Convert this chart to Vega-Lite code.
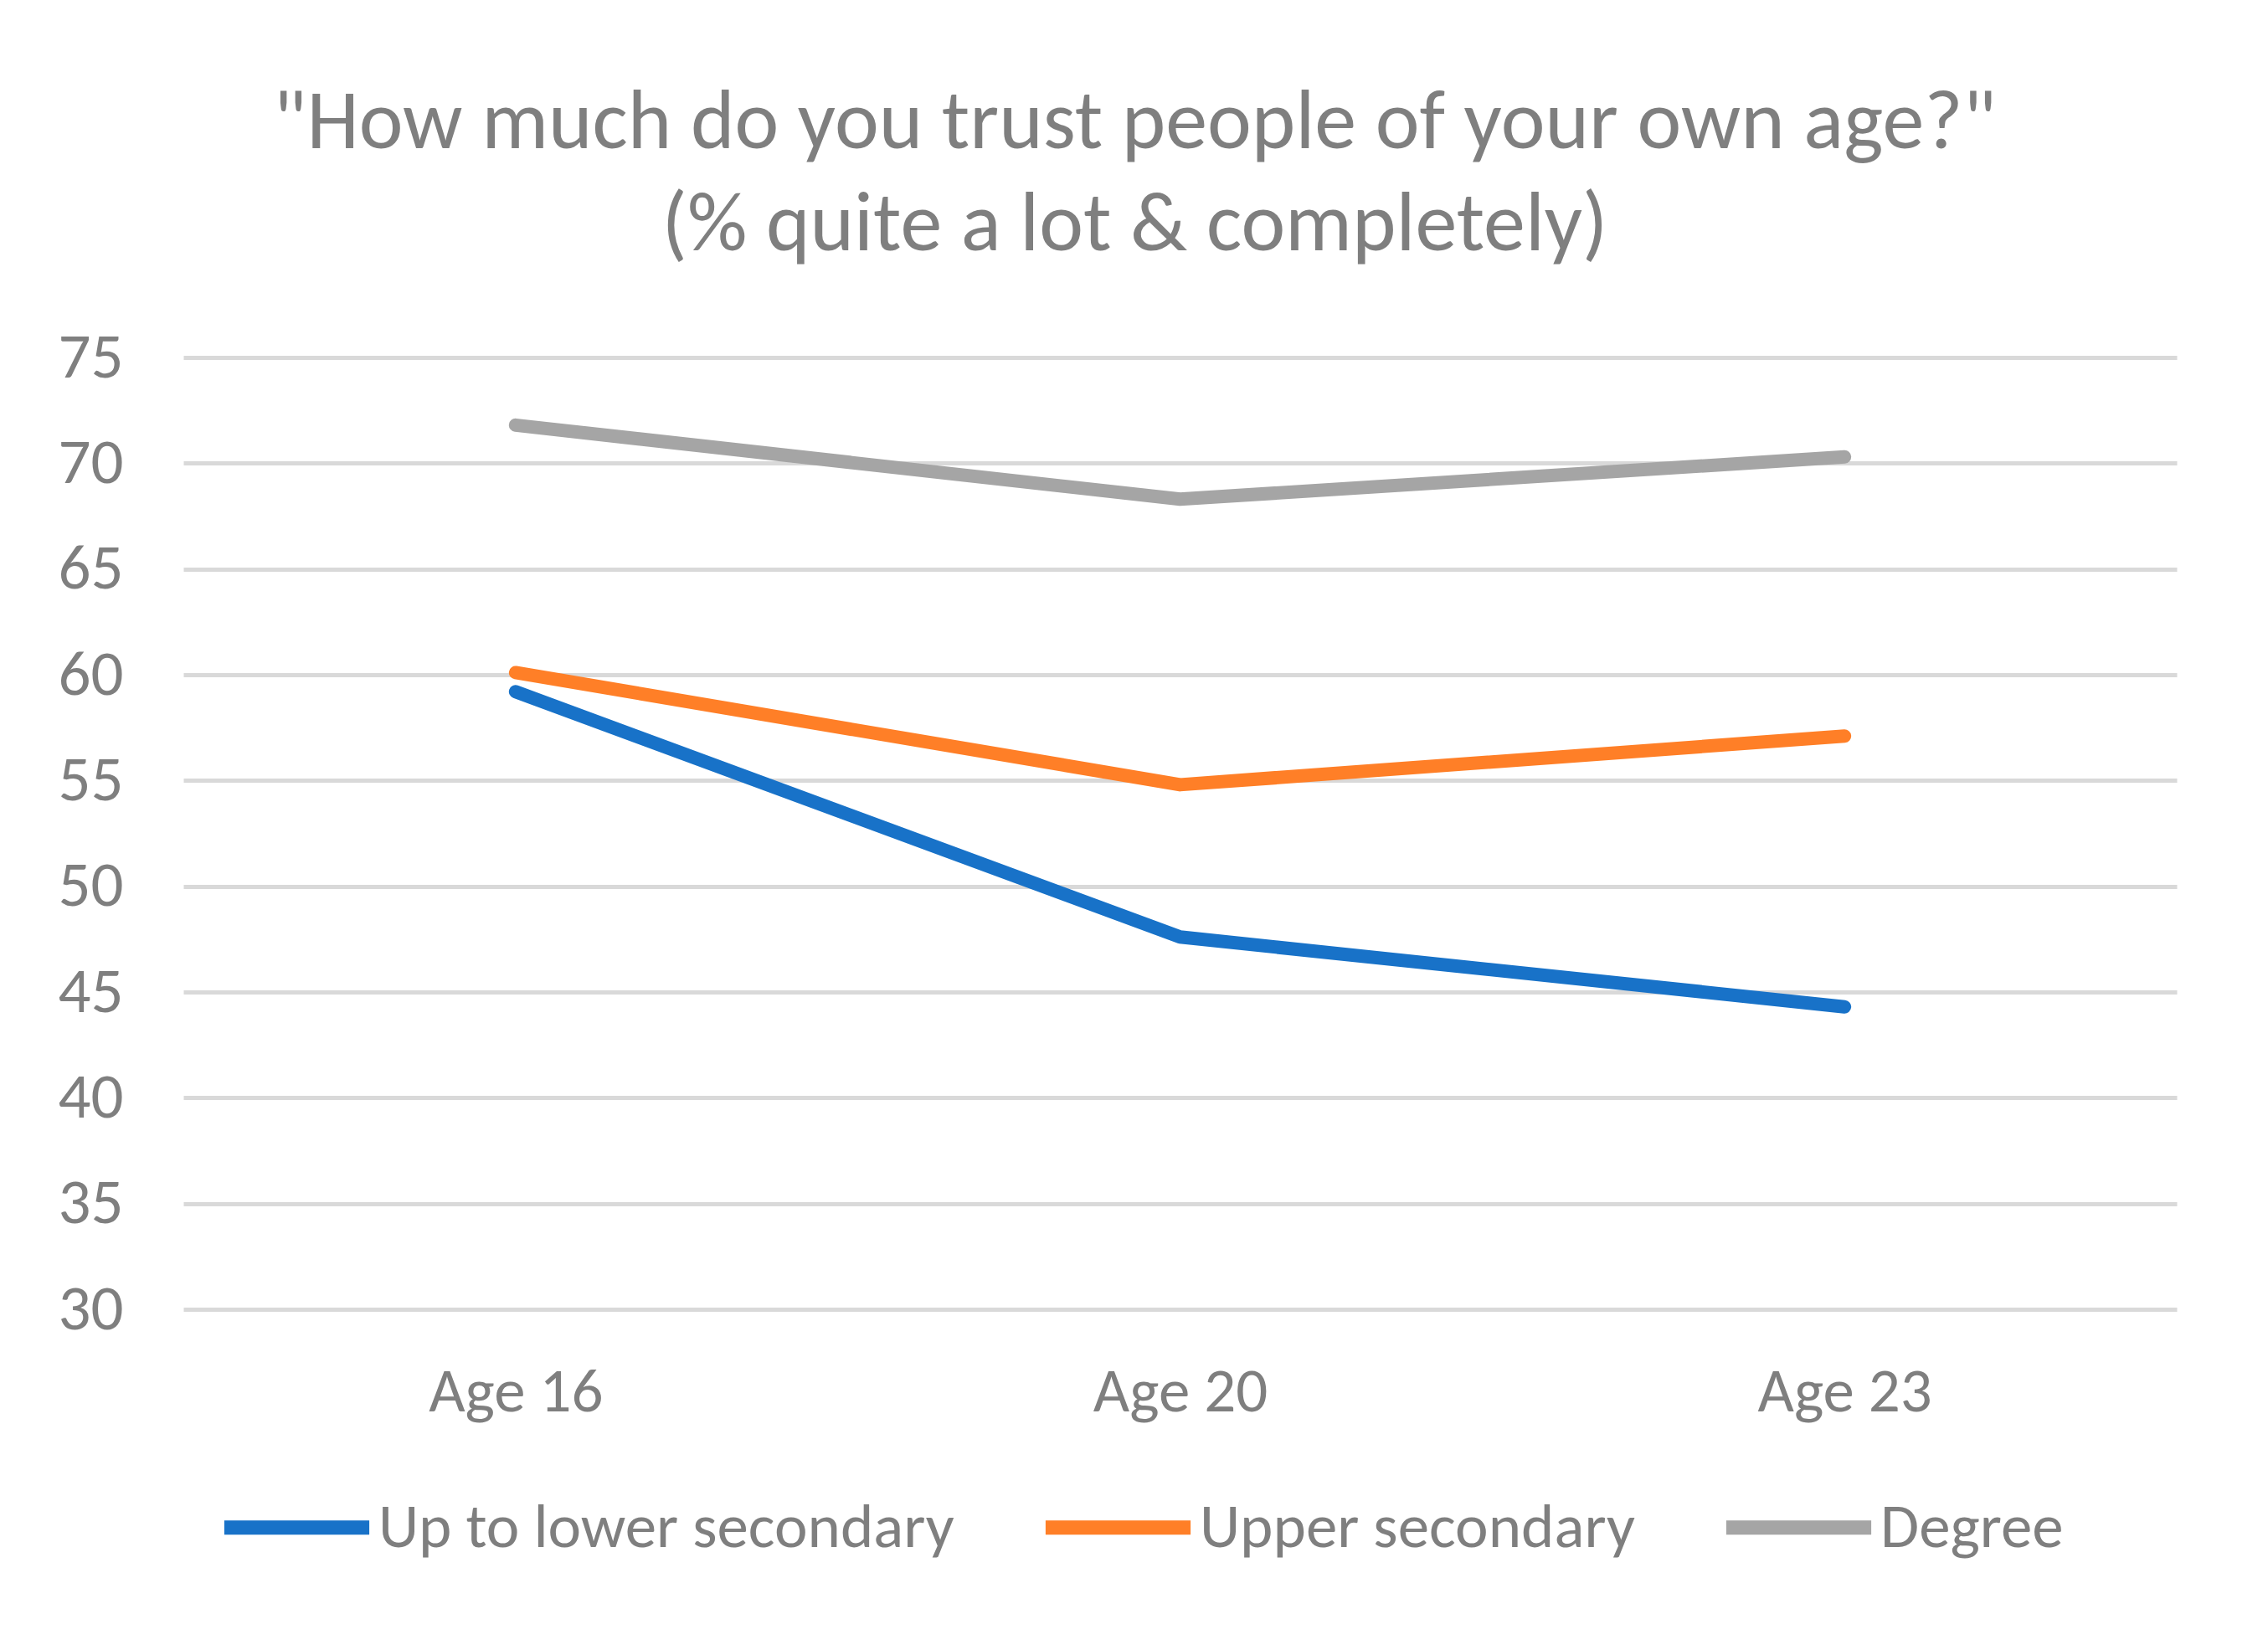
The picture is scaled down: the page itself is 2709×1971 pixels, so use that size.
{
  "$schema": "https://vega.github.io/schema/vega-lite/v6.json",
  "autosize": {"type": "none"},
  "width": 2381,
  "height": 1137,
  "padding": {"left": 219, "top": 427, "right": 109, "bottom": 407},
  "background": "white",
  "title": {
    "text": ["\"How much do you trust people of your own age?\"", "(% quite a lot & completely)"],
    "fontSize": 100,
    "font": "Carlito, Lato",
    "fontWeight": "normal",
    "color": "#7f7f7f",
    "anchor": "middle",
    "dx": -54,
    "offset": 68,
    "lineHeight": 122
  },
  "data": {
    "values": [
      {"age": "Age 16", "group": "Up to lower secondary", "value": 59.2},
      {"age": "Age 20", "group": "Up to lower secondary", "value": 47.6},
      {"age": "Age 23", "group": "Up to lower secondary", "value": 44.3},
      {"age": "Age 16", "group": "Upper secondary", "value": 60.1},
      {"age": "Age 20", "group": "Upper secondary", "value": 54.8},
      {"age": "Age 23", "group": "Upper secondary", "value": 57.1},
      {"age": "Age 16", "group": "Degree", "value": 71.8},
      {"age": "Age 20", "group": "Degree", "value": 68.3},
      {"age": "Age 23", "group": "Degree", "value": 70.3}
    ]
  },
  "mark": {"type": "line", "strokeWidth": 16, "strokeCap": "round", "strokeJoin": "round"},
  "encoding": {
    "x": {
      "field": "age",
      "type": "ordinal",
      "scale": {"type": "point", "padding": 0.5},
      "axis": {
        "title": null,
        "labelAngle": 0,
        "labelFontSize": 75,
        "labelFont": "Carlito, Lato",
        "labelColor": "#7f7f7f",
        "labelPadding": 62,
        "labelLimit": 1000,
        "ticks": false,
        "domain": false,
        "grid": false
      }
    },
    "y": {
      "field": "value",
      "type": "quantitative",
      "scale": {"domain": [30, 75], "nice": false, "zero": false},
      "axis": {
        "title": null,
        "values": [30, 35, 40, 45, 50, 55, 60, 65, 70, 75],
        "labelFontSize": 77,
        "labelFont": "Carlito, Lato",
        "labelColor": "#7f7f7f",
        "labelPadding": 72,
        "ticks": false,
        "domain": false,
        "grid": true,
        "gridColor": "#d9d9d9",
        "gridWidth": 5
      }
    },
    "color": {
      "field": "group",
      "type": "nominal",
      "sort": ["Up to lower secondary", "Upper secondary", "Degree"],
      "scale": {
        "domain": ["Up to lower secondary", "Upper secondary", "Degree"],
        "range": ["#1872c8", "#ff7f27", "#a5a5a5"]
      },
      "legend": {
        "title": null,
        "orient": "none",
        "direction": "horizontal",
        "legendX": 40,
        "legendY": 1302,
        "symbolType": "stroke",
        "symbolSize": 30000,
        "symbolStrokeWidth": 17,
        "labelFontSize": 75,
        "labelFont": "Carlito, Lato",
        "labelColor": "#7f7f7f",
        "labelOffset": 2,
        "columnPadding": 74,
        "labelLimit": 1000
      }
    }
  },
  "config": {"view": {"stroke": null}}
}
